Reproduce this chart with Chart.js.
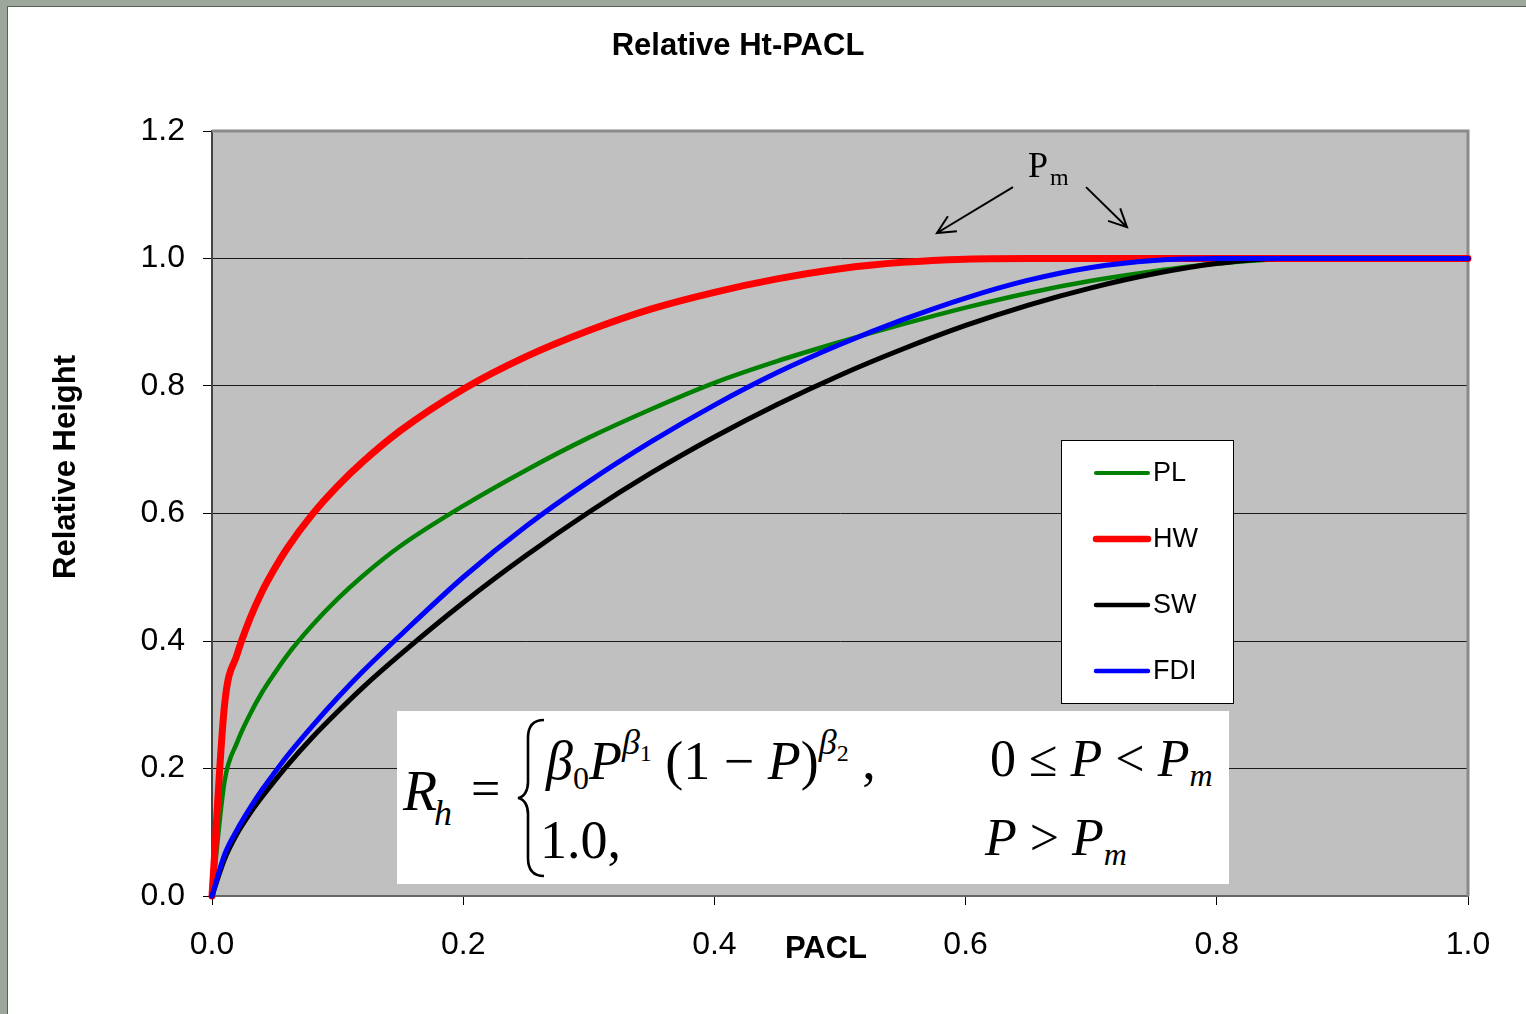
<!DOCTYPE html>
<html>
<head>
<meta charset="utf-8">
<script src="https://cdn.jsdelivr.net/npm/chart.js@4.4.0/dist/chart.umd.min.js"></script>
<style>
  html, body { margin: 0; padding: 0; }
  body { width: 1526px; height: 1014px; background: #9ea79b; position: relative; overflow: hidden; }
  #marco { position: absolute; left: 7px; top: 6px; width: 1519px; height: 1008px; background: #fff; border-left: 1px solid #5a5f58; border-top: 1px solid #5a5f58; box-sizing: border-box; }
  #grafico { position: absolute; left: 8px; top: 7px; }
  .ecuacion { position: absolute; left: 397px; top: 711px; width: 832px; height: 173px; background: #fff; font-family: "Liberation Serif", "Times New Roman", serif; color: #000; }
  .ecuacion .p { position: absolute; white-space: nowrap; line-height: 1; }
  .ecuacion i { font-style: italic; }
  .sb { font-size: 32px; position: relative; top: 10px; }
  .sp { font-size: 36px; position: relative; top: -25px; }
  .sp small { font-size: 24px; position: relative; top: 7px; }
  .pm { position: absolute; left: 1028px; top: 147px; font-family: "Liberation Serif", "Times New Roman", serif; font-size: 36px; line-height: 1; color: #000; white-space: nowrap; }
  .pm small { font-size: 24px; position: relative; top: 8px; margin-left: 2px; }
</style>
</head>
<body>
<div id="marco"></div>
<canvas id="grafico" width="1518" height="1007"></canvas>

<div class="pm">P<small>m</small></div>

<div class="ecuacion">
  <div class="p" style="left:6px; top:52px; font-size:56px;"><i>R</i></div>
  <div class="p" style="left:37px; top:84px; font-size:36px;"><i>h</i></div>
  <div class="p" style="left:74px; top:52px; font-size:52px;">=</div>
  <svg class="p" style="left:118px; top:7px;" width="32" height="160" viewBox="0 0 32 160">
    <path d="M29,2 C18,2 13,8 13,20 L13,64 C13,73 9,79 3,80 C9,81 13,87 13,96 L13,140 C13,152 18,158 29,158" fill="none" stroke="#000" stroke-width="2.6"/>
  </svg>
  <div class="p" style="left:149px; top:23px; font-size:54px;"><i>β</i><span class="sb">0</span><i>P</i><span class="sp"><i>β</i><small>1</small></span> (1 − <i>P</i>)<span class="sp"><i>β</i><small>2</small></span> ,</div>
  <div class="p" style="left:593px; top:22px; font-size:52px;">0 ≤ <i>P</i> &lt; <i>P</i><span class="sb"><i>m</i></span></div>
  <div class="p" style="left:143px; top:102px; font-size:54px;">1.0,</div>
  <div class="p" style="left:588px; top:101px; font-size:52px;"><i>P</i> &gt; <i>P</i><span class="sb"><i>m</i></span></div>
</div>

<script>
// Datos (PACL vs altura relativa)
const pacl = [0, 0.01, 0.02, 0.03, 0.04, 0.05, 0.06, 0.08, 0.1, 0.12, 0.15, 0.2, 0.25, 0.3, 0.35, 0.4, 0.45, 0.5, 0.55, 0.6, 0.65, 0.7, 0.75, 0.8, 0.85, 0.9, 0.95, 1.0];
const alturaPL  = [0, 0.18, 0.241, 0.284, 0.32, 0.35, 0.378, 0.425, 0.466, 0.502, 0.549, 0.612, 0.668, 0.719, 0.764, 0.805, 0.839, 0.869, 0.897, 0.923, 0.946, 0.965, 0.98, 0.992, 0.999, 1, 1, 1];
const alturaHW  = [0, 0.30, 0.379, 0.434, 0.478, 0.514, 0.546, 0.599, 0.643, 0.681, 0.730, 0.795, 0.846, 0.887, 0.921, 0.947, 0.968, 0.984, 0.994, 0.999, 1, 1, 1, 1, 1, 1, 1, 1];
const alturaSW  = [0, 0.058, 0.098, 0.129, 0.156, 0.181, 0.205, 0.249, 0.289, 0.327, 0.379, 0.46, 0.534, 0.602, 0.664, 0.72, 0.771, 0.817, 0.858, 0.895, 0.927, 0.954, 0.976, 0.992, 1, 1, 1, 1];
const alturaFDI = [0, 0.065, 0.104, 0.137, 0.167, 0.194, 0.22, 0.267, 0.311, 0.352, 0.409, 0.5, 0.58, 0.65, 0.713, 0.77, 0.821, 0.865, 0.904, 0.938, 0.966, 0.986, 0.997, 1, 1, 1, 1, 1];

const etiquetas = ['PL', 'HW', 'SW', 'FDI'];
const colores = ['#008000', '#ff0000', '#000000', '#0000ff'];
const grosores = [4.5, 7, 5, 5];
const ordenDibujo = [3, 2, 1, 0];
const series = [alturaPL, alturaHW, alturaSW, alturaFDI];

const ticksX = [0, 0.2, 0.4, 0.6, 0.8, 1.0];
const ticksY = [0, 0.2, 0.4, 0.6, 0.8, 1.0, 1.2];

// flechas que señalan Pm (en unidades de los ejes)
const flechasPm = [
  { desde: [0.6377, 1.112], hasta: [0.5772, 1.040] },
  { desde: [0.6959, 1.112], hasta: [0.7285, 1.049] }
];

const fuente = '"Liberation Sans", Arial, sans-serif';

const fondoYMarco = {
  id: 'fondoYMarco',
  beforeDraw(chart) {
    const { ctx, chartArea: a } = chart;
    ctx.save();
    ctx.fillStyle = '#c0c0c0';
    ctx.fillRect(a.left, a.top, a.right - a.left, a.bottom - a.top);
    ctx.restore();
  },
  beforeDatasetsDraw(chart) {
    const { ctx, chartArea: a } = chart;
    ctx.save();
    ctx.strokeStyle = '#8a8a8a';
    ctx.lineWidth = 3;
    ctx.beginPath();
    ctx.moveTo(a.left, a.top);
    ctx.lineTo(a.right, a.top);
    ctx.lineTo(a.right, a.bottom);
    ctx.stroke();
    ctx.restore();
  }
};

const anotaciones = {
  id: 'anotaciones',
  afterDraw(chart) {
    const { ctx } = chart;
    const x = chart.scales.x, y = chart.scales.y;
    ctx.save();

    // titulo y ejes
    ctx.fillStyle = '#000';
    ctx.font = 'bold 31px ' + fuente;
    ctx.textAlign = 'center';
    ctx.textBaseline = 'middle';
    ctx.fillText('Relative Ht-PACL', 730, 39);
    ctx.fillText('PACL', 818, 942);
    ctx.save();
    ctx.translate(58, 460);
    ctx.rotate(-Math.PI / 2);
    ctx.fillText('Relative Height', 0, 0);
    ctx.restore();

    // flechas Pm
    ctx.strokeStyle = '#000';
    ctx.lineWidth = 2;
    flechasPm.forEach(f => {
      const x0 = x.getPixelForValue(f.desde[0]), y0 = y.getPixelForValue(f.desde[1]);
      const x1 = x.getPixelForValue(f.hasta[0]), y1 = y.getPixelForValue(f.hasta[1]);
      const ang = Math.atan2(y1 - y0, x1 - x0);
      ctx.beginPath();
      ctx.moveTo(x0, y0);
      ctx.lineTo(x1, y1);
      ctx.moveTo(x1 - 20 * Math.cos(ang - 0.45), y1 - 20 * Math.sin(ang - 0.45));
      ctx.lineTo(x1, y1);
      ctx.lineTo(x1 - 20 * Math.cos(ang + 0.45), y1 - 20 * Math.sin(ang + 0.45));
      ctx.stroke();
    });

    // leyenda
    ctx.fillStyle = '#fff';
    ctx.fillRect(1053, 433, 172, 263);
    ctx.strokeStyle = '#000';
    ctx.lineWidth = 1;
    ctx.strokeRect(1053.5, 433.5, 172, 263);
    ctx.font = '27px ' + fuente;
    ctx.textAlign = 'left';
    ctx.textBaseline = 'middle';
    ctx.lineCap = 'round';
    etiquetas.forEach((et, i) => {
      const yy = 466 + i * 66;
      ctx.strokeStyle = colores[i];
      ctx.lineWidth = grosores[i] - 0.5;
      ctx.beginPath();
      ctx.moveTo(1088, yy);
      ctx.lineTo(1140, yy);
      ctx.stroke();
      ctx.fillStyle = '#000';
      ctx.fillText(et, 1145, yy + 1);
    });
    ctx.restore();
  }
};

const ctx = document.getElementById('grafico').getContext('2d');
new Chart(ctx, {
  type: 'line',
  data: {
    datasets: series.map((s, i) => ({
      label: etiquetas[i],
      data: pacl.map((p, j) => ({ x: p, y: s[j] })),
      borderColor: colores[i],
      borderWidth: grosores[i],
      cubicInterpolationMode: 'monotone',
      borderCapStyle: 'round',
      borderJoinStyle: 'round',
      pointRadius: 0,
      fill: false,
      order: ordenDibujo[i],
      clip: 5
    }))
  },
  options: {
    responsive: false,
    animation: false,
    events: [],
    layout: { padding: { top: 124, right: 58, left: 0, bottom: 0 } },
    plugins: { legend: { display: false }, tooltip: { enabled: false }, title: { display: false } },
    scales: {
      x: {
        type: 'linear', min: 0, max: 1,
        afterBuildTicks: s => { s.ticks = ticksX.map(v => ({ value: v })); },
        ticks: { callback: v => v.toFixed(1), color: '#000', font: { size: 32, family: fuente }, padding: 21, maxRotation: 0 },
        grid: { drawOnChartArea: false, tickLength: 9, tickColor: '#000' },
        border: { color: '#666', width: 2 },
        afterFit: s => { s.height = 118; }
      },
      y: {
        min: 0, max: 1.2,
        afterBuildTicks: s => { s.ticks = ticksY.map(v => ({ value: v })); },
        ticks: { callback: v => v.toFixed(1), color: '#000', font: { size: 32, family: fuente }, padding: 18 },
        grid: { color: '#1a1a1a', lineWidth: 1, tickLength: 9, tickColor: '#000' },
        border: { color: '#444', width: 2 },
        afterFit: s => { s.width = 204; }
      }
    }
  },
  plugins: [fondoYMarco, anotaciones]
});
</script>
</body>
</html>
